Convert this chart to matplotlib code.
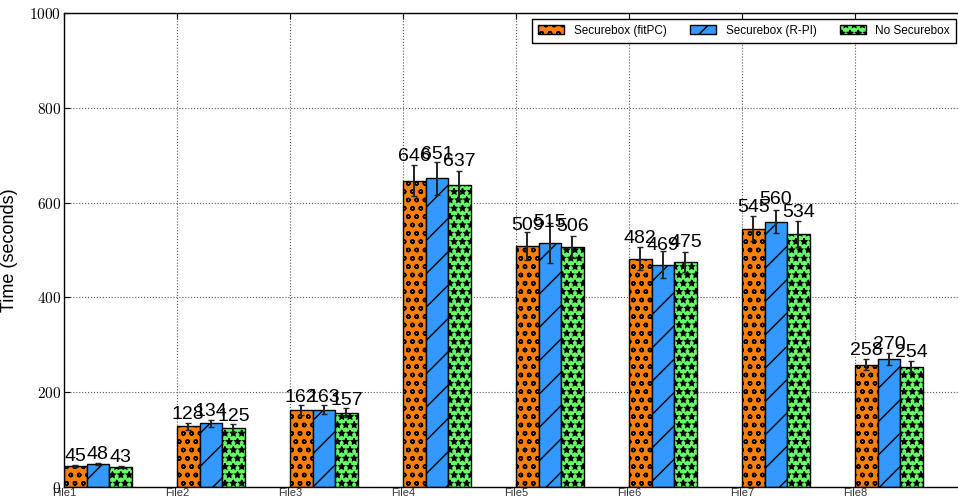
import matplotlib
matplotlib.use("Agg")
import matplotlib.pyplot as plt
import numpy as np
from matplotlib.ticker import FuncFormatter

files = ["File1", "File2", "File3", "File4", "File5", "File6", "File7", "File8"]
series_names = ["Securebox (fitPC)", "Securebox (R-PI)", "No Securebox"]
fitpc = [45, 128, 162, 646, 509, 482, 545, 258]
rpi = [48, 134, 163, 651, 515, 469, 560, 270]
nosecure = [43, 125, 157, 637, 506, 475, 534, 254]
fitpc_err = [2, 8, 10, 33, 30, 25, 27, 12]
rpi_err = [2, 7, 10, 35, 42, 28, 25, 12]
nosecure_err = [2, 8, 10, 30, 23, 21, 28, 12]

colors = ["#FF8000", "#3399FF", "#66FF66"]
hatches = ["oo", "/", "**"]

plt.rcParams["hatch.linewidth"] = 1.0
plt.rcParams["mathtext.fontset"] = "cm"

fig = plt.figure(figsize=(9.58, 5.0), dpi=100)
ax = fig.add_axes([64 / 958, 13 / 500, 904 / 958, 474 / 500])

x = np.arange(len(files))
width = 0.2
all_vals = [fitpc, rpi, nosecure]
all_errs = [fitpc_err, rpi_err, nosecure_err]

for i, (vals, errs) in enumerate(zip(all_vals, all_errs)):
    pos = x + i * width
    ax.bar(pos, vals, width, align="edge", color=colors[i], edgecolor="black",
           linewidth=1.0, hatch=hatches[i], label=series_names[i], zorder=2)
    ax.errorbar(pos + width / 2, vals, yerr=errs, fmt="none", ecolor="#222222",
                elinewidth=1.4, capsize=2.5, capthick=1.0, zorder=3)
    # value label sits slightly above the bar (5% of its height)
    for p, v in zip(pos, vals):
        ax.text(p + width / 2, 1.05 * v, str(v), ha="center", va="bottom",
                fontsize=14, family="Liberation Sans", zorder=4)

ax.set_xlim(0, 8)
ax.set_ylim(0, 1000)
ax.set_xticks(x)
ax.set_xticklabels(files, fontsize=8, family="Liberation Sans", color="#333333")
ax.set_yticks(np.arange(0, 1001, 200))
ax.yaxis.set_major_formatter(FuncFormatter(lambda v, p: r"$%d$" % v))
ax.tick_params(axis="y", labelsize=11, direction="in", length=4, pad=2)
ax.tick_params(axis="x", direction="in", length=4, pad=1)
ax.tick_params(top=True, right=True)
ax.grid(True, linestyle=":", color="#555555", linewidth=0.8, zorder=0)
ax.set_axisbelow(True)
for s in ax.spines.values():
    s.set_linewidth(1.0)

ax.set_ylabel("Time (seconds)", fontsize=13, family="Liberation Sans")
ax.yaxis.set_label_coords(18 / 958, 250 / 500, transform=fig.transFigure)

leg = ax.legend(ncol=3, loc="upper right", bbox_to_anchor=(956 / 958, 1 - 19 / 500),
                bbox_transform=fig.transFigure, borderaxespad=0, fancybox=False,
                edgecolor="black", prop={"family": "Liberation Sans", "size": 8.5},
                handlelength=2.2, handleheight=0.8, columnspacing=2.0,
                borderpad=0.5, framealpha=1)
leg.get_frame().set_linewidth(1.0)

fig.savefig("out.png", dpi=100)
